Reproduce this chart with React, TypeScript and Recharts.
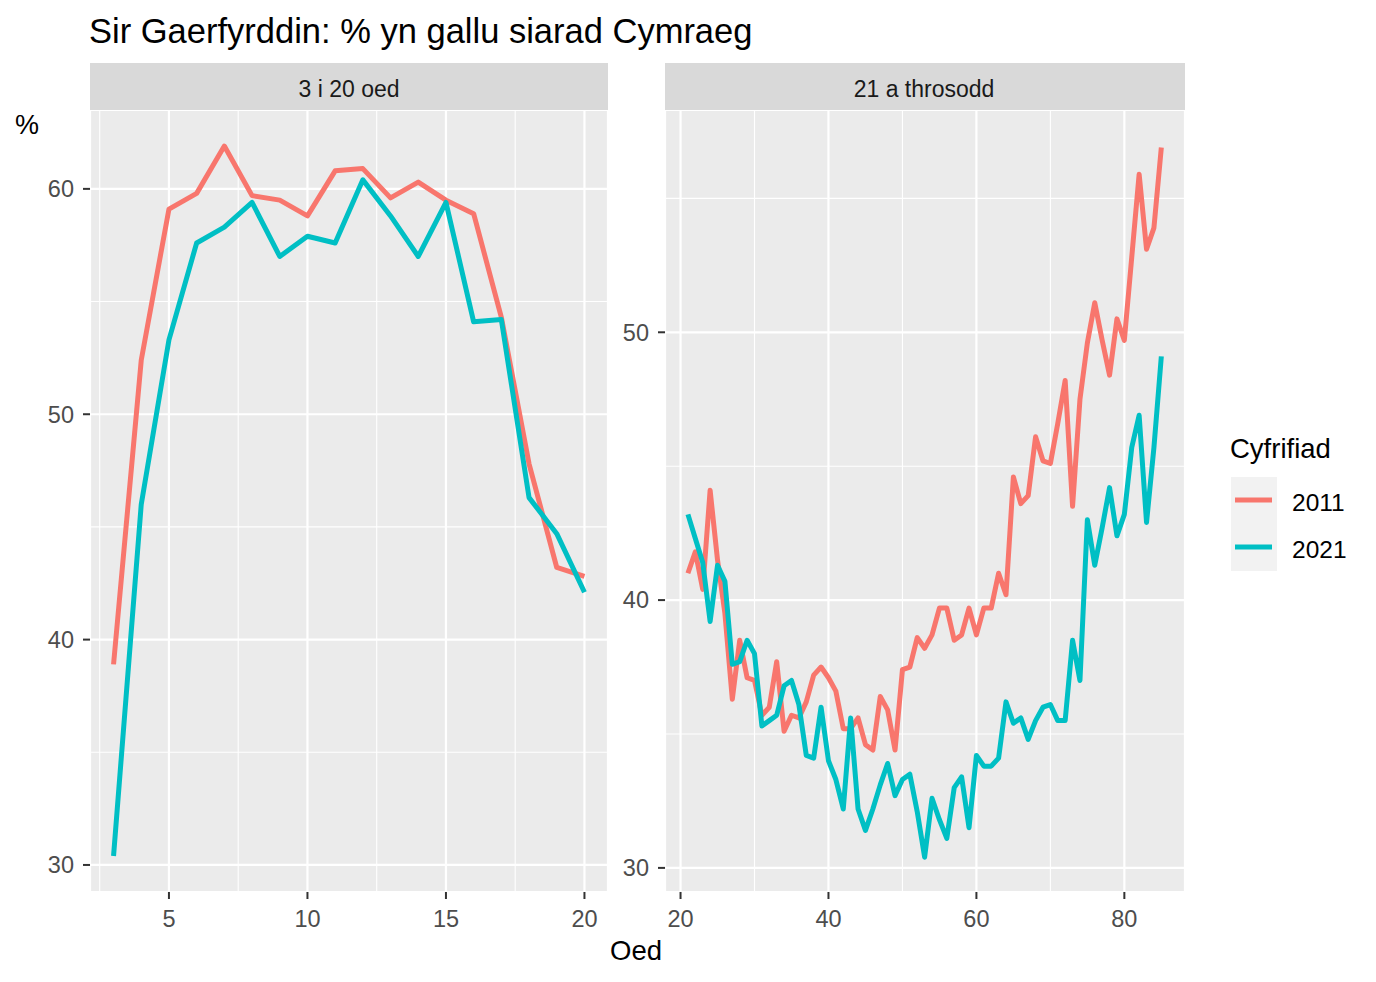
import React from "react";
import { LineChart, Line, XAxis, YAxis, CartesianGrid } from "recharts";

// ages (Oed)
const youngAges = [3, 4, 5, 6, 7, 8, 9, 10, 11, 12, 13, 14, 15, 16, 17, 18, 19, 20];
const young2011 = [38.9, 52.4, 59.1, 59.8, 61.9, 59.7, 59.5, 58.8, 60.8, 60.9, 59.6, 60.3, 59.5, 58.9, 54.3, 47.8, 43.2, 42.8];
const young2021 = [30.4, 46.0, 53.3, 57.6, 58.3, 59.4, 57.0, 57.9, 57.6, 60.4, 58.8, 57.0, 59.4, 54.1, 54.2, 46.3, 44.7, 42.1];

const adultAges = [
  21, 22, 23, 24, 25, 26, 27, 28, 29, 30,
  31, 32, 33, 34, 35, 36, 37, 38, 39, 40,
  41, 42, 43, 44, 45, 46, 47, 48, 49, 50,
  51, 52, 53, 54, 55, 56, 57, 58, 59, 60,
  61, 62, 63, 64, 65, 66, 67, 68, 69, 70,
  71, 72, 73, 74, 75, 76, 77, 78, 79, 80,
  81, 82, 83, 84, 85,
];
const adult2011 = [
  41.0, 41.8, 40.4, 44.1, 41.5, 39.5, 36.3, 38.5, 37.1, 37.0,
  35.7, 36.0, 37.7, 35.1, 35.7, 35.6, 36.2, 37.2, 37.5, 37.1,
  36.6, 35.2, 35.2, 35.6, 34.6, 34.4, 36.4, 35.9, 34.4, 37.4,
  37.5, 38.6, 38.2, 38.7, 39.7, 39.7, 38.5, 38.7, 39.7, 38.7,
  39.7, 39.7, 41.0, 40.2, 44.6, 43.6, 43.9, 46.1, 45.2, 45.1,
  46.6, 48.2, 43.5, 47.5, 49.6, 51.1, 49.7, 48.4, 50.5, 49.7,
  52.8, 55.9, 53.1, 53.9, 56.9,
];
const adult2021 = [
  43.2, 42.3, 41.4, 39.2, 41.3, 40.7, 37.6, 37.7, 38.5, 38.0,
  35.3, 35.5, 35.7, 36.8, 37.0, 36.1, 34.2, 34.1, 36.0, 34.0,
  33.3, 32.2, 35.6, 32.2, 31.4, 32.2, 33.1, 33.9, 32.7, 33.3,
  33.5, 32.1, 30.4, 32.6, 31.8, 31.1, 33.0, 33.4, 31.5, 34.2,
  33.8, 33.8, 34.1, 36.2, 35.4, 35.6, 34.8, 35.5, 36.0, 36.1,
  35.5, 35.5, 38.5, 37.0, 43.0, 41.3, 42.7, 44.2, 42.4, 43.2,
  45.7, 46.9, 42.9, 45.7, 49.1,
];

const youngXTicks = [5, 10, 15, 20];
const youngXMinor = [2.5, 7.5, 12.5, 17.5];
const youngYTicks = [30, 40, 50, 60];
const youngYMinor = [35, 45, 55];

const adultXTicks = [20, 40, 60, 80];
const adultXMinor = [30, 50, 70];
const adultYTicks = [30, 40, 50];
const adultYMinor = [35, 45, 55];

const years = ["2011", "2021"];
const colours = ["#F8766D", "#00BFC4"];

const FONT = '"Liberation Sans", Arial, Helvetica, sans-serif';

const toRows = (ages: number[], a: number[], b: number[]) =>
  ages.map((age, i) => ({ age, y2011: a[i], y2021: b[i] }));

type PanelProps = {
  rows: { age: number; y2011: number; y2021: number }[];
  left: number;
  width: number;
  yAxisWidth: number;
  rightMargin: number;
  xDomain: [number, number];
  yDomain: [number, number];
  xTicks: number[];
  xMinor: number[];
  yTicks: number[];
  yMinor: number[];
};

const tickStyle = { fill: "#4D4D4D", fontSize: 23.5, fontFamily: FONT };

const Panel = (p: PanelProps) => (
  <div style={{ position: "absolute", left: p.left, top: 110 }}>
    <LineChart
      width={p.width}
      height={850}
      data={p.rows}
      margin={{ top: 0, right: p.rightMargin, bottom: 0, left: 0 }}
    >
      <CartesianGrid
        fill="#EBEBEB"
        fillOpacity={1}
        stroke="#FFFFFF"
        strokeWidth={1.1}
        verticalValues={p.xMinor}
        horizontalValues={p.yMinor}
      />
      <CartesianGrid stroke="#FFFFFF" strokeWidth={2.2} />
      <XAxis
        dataKey="age"
        type="number"
        domain={p.xDomain}
        allowDataOverflow
        ticks={p.xTicks}
        height={68}
        axisLine={false}
        tickLine={{ stroke: "#333333", strokeWidth: 2 }}
        tickSize={7}
        tickMargin={11}
        tick={tickStyle}
      />
      <YAxis
        type="number"
        domain={p.yDomain}
        allowDataOverflow
        ticks={p.yTicks}
        width={p.yAxisWidth}
        axisLine={false}
        tickLine={{ stroke: "#333333", strokeWidth: 2 }}
        tickSize={7}
        tickMargin={9}
        tick={tickStyle}
      />
      {years.map((yr, i) => (
        <Line
          key={yr}
          type="linear"
          dataKey={`y${yr}`}
          stroke={colours[i]}
          strokeWidth={5}
          strokeLinejoin="round"
          dot={false}
          activeDot={false}
          isAnimationActive={false}
        />
      ))}
    </LineChart>
  </div>
);

export default function App() {
  return (
    <div
      style={{
        position: "absolute",
        left: 0,
        top: 0,
        width: 1376,
        height: 982,
        background: "#FFFFFF",
        fontFamily: FONT,
      }}
    >
      <svg width={1376} height={982} style={{ position: "absolute", left: 0, top: 0 }}>
        <text x={89} y={43} fontSize={34.5} fill="#000000" fontFamily={FONT}>
          Sir Gaerfyrddin: % yn gallu siarad Cymraeg
        </text>
        <rect x={90} y={63} width={518} height={47} fill="#D9D9D9" />
        <rect x={665} y={63} width={520} height={47} fill="#D9D9D9" />
        <text x={349} y={97} fontSize={23} fill="#1A1A1A" textAnchor="middle" fontFamily={FONT}>
          3 i 20 oed
        </text>
        <text x={924} y={97} fontSize={23} fill="#1A1A1A" textAnchor="middle" fontFamily={FONT}>
          21 a throsodd
        </text>
        <text x={15} y={134} fontSize={27} fill="#000000" fontFamily={FONT}>
          %
        </text>
        <text x={636} y={960} fontSize={27.5} fill="#000000" textAnchor="middle" fontFamily={FONT}>
          Oed
        </text>
        <text x={1230} y={458} fontSize={27.5} fill="#000000" fontFamily={FONT}>
          Cyfrifiad
        </text>
        <rect x={1231} y={477} width={46} height={94} fill="#F2F2F2" />
        {years.map((yr, i) => (
          <g key={yr}>
            <line
              x1={1235}
              x2={1272}
              y1={500 + i * 47}
              y2={500 + i * 47}
              stroke={colours[i]}
              strokeWidth={5}
            />
            <text x={1292} y={511 + i * 47} fontSize={24.5} fill="#000000" fontFamily={FONT}>
              {yr}
            </text>
          </g>
        ))}
      </svg>
      <Panel
        rows={toRows(youngAges, young2011, young2021)}
        left={0}
        width={620}
        yAxisWidth={90}
        rightMargin={12}
        xDomain={[2.15, 20.85]}
        yDomain={[28.8, 63.5]}
        xTicks={youngXTicks}
        xMinor={youngXMinor}
        yTicks={youngYTicks}
        yMinor={youngYMinor}
      />
      <Panel
        rows={toRows(adultAges, adult2011, adult2021)}
        left={600}
        width={600}
        yAxisWidth={65}
        rightMargin={15}
        xDomain={[17.9, 88.2]}
        yDomain={[29.1, 58.3]}
        xTicks={adultXTicks}
        xMinor={adultXMinor}
        yTicks={adultYTicks}
        yMinor={adultYMinor}
      />
    </div>
  );
}
